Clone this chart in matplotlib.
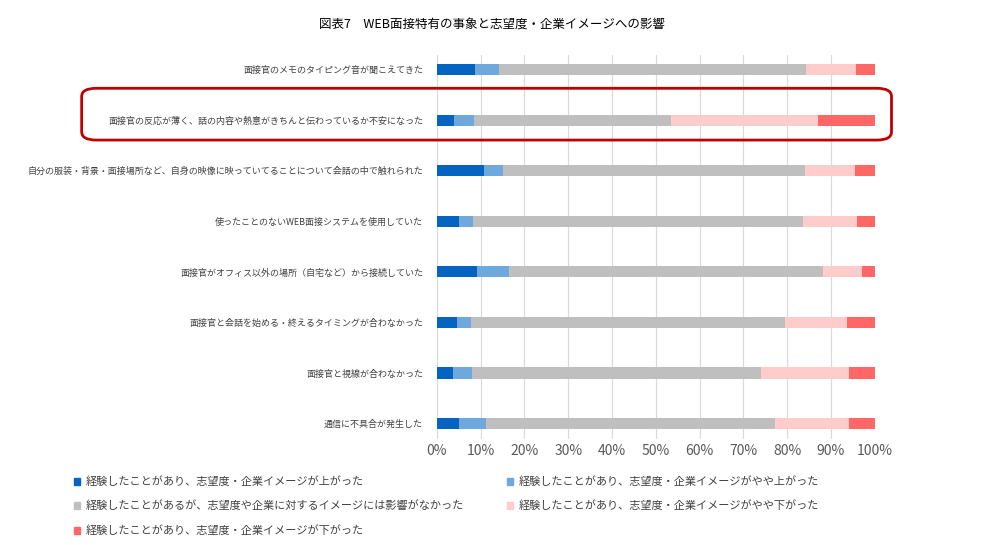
import matplotlib
matplotlib.use("Agg")
import matplotlib.pyplot as plt
import numpy as np
from matplotlib.patches import FancyBboxPatch, Rectangle

plt.rcParams['font.family'] = ['Noto Sans CJK JP', 'DejaVu Sans']

categories = [
    "面接官のメモのタイピング音が聞こえてきた",
    "面接官の反応が薄く、話の内容や熱意がきちんと伝わっているか不安になった",
    "自分の服装・背景・面接場所など、自身の映像に映っていてることについて会話の中で触れられた",
    "使ったことのないWEB面接システムを使用していた",
    "面接官がオフィス以外の場所（自宅など）から接続していた",
    "面接官と会話を始める・終えるタイミングが合わなかった",
    "面接官と視線が合わなかった",
    "通信に不具合が発生した",
]
# cumulative boundaries (%)
cum1 = [8.6, 3.8, 10.7, 5.0, 9.1, 4.5, 3.6, 5.0]
cum2 = [14.1, 8.4, 15.0, 8.2, 16.4, 7.9, 8.1, 11.3]
cum3 = [84.2, 53.4, 84.0, 83.5, 88.1, 79.4, 74.0, 77.2]
cum4 = [95.6, 87.0, 95.4, 95.9, 97.0, 93.6, 94.1, 94.1]
series_names = [
    "経験したことがあり、志望度・企業イメージが上がった",
    "経験したことがあり、志望度・企業イメージがやや上がった",
    "経験したことがあるが、志望度や企業に対するイメージには影響がなかった",
    "経験したことがあり、志望度・企業イメージがやや下がった",
    "経験したことがあり、志望度・企業イメージが下がった",
]
colors = ["#0563C1", "#6FA8DC", "#BFBFBF", "#FFCCCC", "#FF6666"]

bounds = np.array([np.zeros(8), cum1, cum2, cum3, cum4, np.full(8, 100.0)])
vals = np.diff(bounds, axis=0)

fig = plt.figure(figsize=(9.84, 5.45), dpi=100)
ax = fig.add_axes([0.444, 0.195, 0.445, 0.705])
y = np.arange(len(categories))[::-1]
for i in range(5):
    ax.barh(y, vals[i], left=bounds[i], height=0.22, color=colors[i], label=series_names[i], zorder=3)
ax.set_xlim(0, 100)
ax.set_ylim(-0.3, 7.3)
ax.set_xticks(np.arange(0, 101, 10))
ax.set_xticklabels([f"{v}%" for v in range(0, 101, 10)], fontsize=10, color="#595959")
ax.set_yticks(y)
ax.set_yticklabels(categories, fontsize=6.5, color="#404040")
ax.grid(axis='x', color="#D9D9D9", lw=0.8, zorder=0)
for s in ax.spines.values():
    s.set_visible(False)
ax.tick_params(length=0)
ax.tick_params(axis='y', pad=10)

fig.text(0.5, 0.955, "図表7　WEB面接特有の事象と志望度・企業イメージへの影響", ha='center', va='center', fontsize=9)

box = FancyBboxPatch((0.083, 0.743), 0.823, 0.095, boxstyle="round,pad=0,rounding_size=0.015",
                     transform=fig.transFigure, fill=False, ec="#C00000", lw=2, zorder=10)
fig.patches.append(box)

pos = [(0.075, 0.117), (0.515, 0.117), (0.075, 0.072), (0.515, 0.072), (0.075, 0.027)]
for (px, py), c, n in zip(pos, colors, series_names):
    fig.patches.append(Rectangle((px, py - 0.006), 0.006, 0.012, transform=fig.transFigure, color=c))
    fig.text(px + 0.012, py, n, fontsize=8, va='center', color="#404040")

fig.savefig("out.png", dpi=100)
